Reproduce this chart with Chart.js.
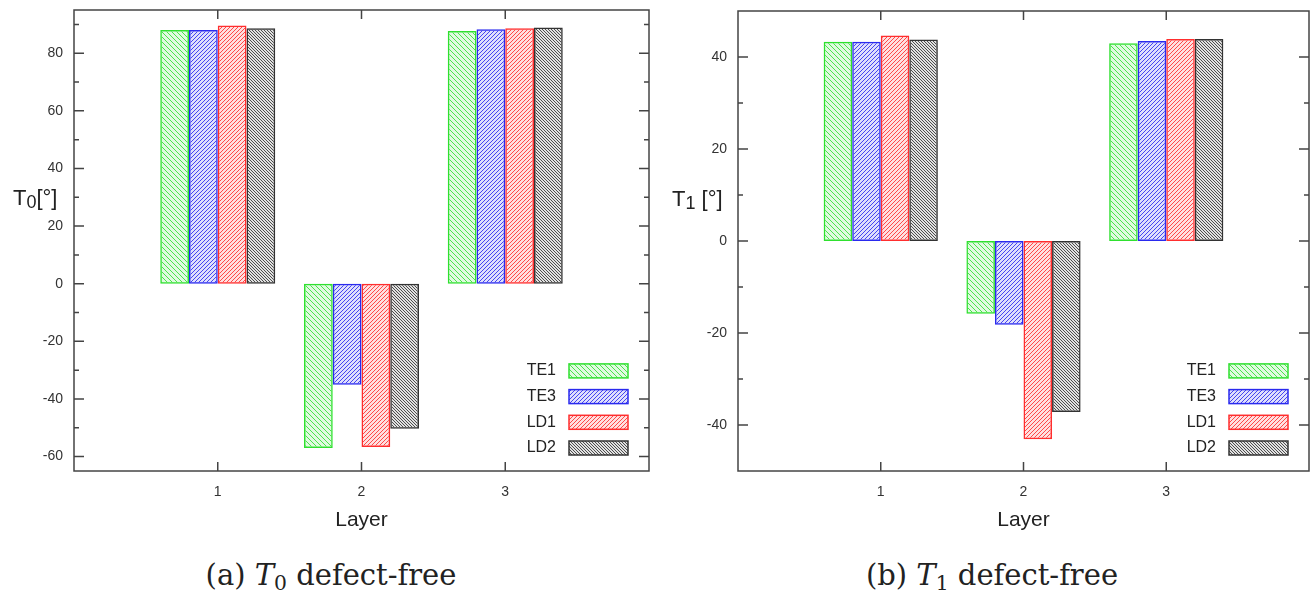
<!DOCTYPE html>
<html>
<head>
<meta charset="utf-8">
<script src="https://cdn.jsdelivr.net/npm/chart.js@4.4.1/dist/chart.umd.min.js"></script>
<style>
  body { margin: 0; background: #fff; width: 1310px; height: 593px; overflow: hidden; position: relative; }
  .box { position: absolute; top: 0; width: 655px; height: 545px; }
  .cap { position: absolute; top: 558px; line-height: 34px; font-family: "DejaVu Serif", serif; font-size: 29px;
         color: #222; white-space: nowrap; transform: translateX(-50%); }
  .cap sub { font-size: 0.7em; vertical-align: -0.25em; line-height: 0; }
</style>
</head>
<body>
<div class="box" style="left:0"><canvas id="chartT0"></canvas></div>
<div class="box" style="left:655px"><canvas id="chartT1"></canvas></div>
<div class="cap" style="left:331px">(a) <i>T</i><sub>0</sub> defect-free</div>
<div class="cap" style="left:992px">(b) <i>T</i><sub>1</sub> defect-free</div>

<script>
// layers on the x axis
const layers = [1, 2, 3];
const seriesNames = ['TE1', 'TE3', 'LD1', 'LD2'];

// T0 [deg], one array per series
const t0TE1 = [88.1, -57.0, 87.7];
const t0TE3 = [88.1, -35.1, 88.3];
const t0LD1 = [89.6, -56.7, 88.7];
const t0LD2 = [88.7, -50.3, 88.9];

// T1 [deg]
const t1TE1 = [43.3, -15.8, 43.0];
const t1TE3 = [43.3, -18.2, 43.5];
const t1LD1 = [44.7, -43.1, 43.9];
const t1LD2 = [43.8, -37.2, 43.9];

// y ticks
const t0Major = [-60, -40, -20, 0, 20, 40, 60, 80];
const t0Minor = [-50, -30, -10, 10, 30, 50, 70, 90];
const t1Major = [-40, -20, 0, 20, 40];
const t1Minor = [-30, -10, 10, 30];

const colors = ['#2fe02f', '#2a2aee', '#ff2e2e', '#333333'];
const hatchDir = [-1, 1, 1, -1];
const hatchGap = [5, 4, 4, 3];

const font = "'Liberation Sans', Arial, sans-serif";

// small tile: light tint plus a one pixel diagonal line, repeated
function hatch(ctx, color, size, dir) {
    const c = document.createElement('canvas');
    c.width = c.height = size;
    const g = c.getContext('2d');
    g.fillStyle = color;
    g.globalAlpha = 0.15;
    g.fillRect(0, 0, size, size);
    g.globalAlpha = 0.85;
    for (let yy = 0; yy < size; yy++) {
        for (let xx = 0; xx < size; xx++) {
            const k = dir > 0 ? (xx + yy) % size : (xx - yy + size) % size;
            if (k === 0) g.fillRect(xx, yy, 1, 1);
        }
    }
    return ctx.createPattern(c, 'repeat');
}

// frame, inward ticks, y title and the legend (gnuplot look)
const decor = {
    id: 'decor',
    afterDatasetsDraw(chart, args, opts) {
        const ctx = chart.ctx;
        const a = chart.chartArea;
        const x = chart.scales.x, y = chart.scales.y;
        ctx.save();
        ctx.strokeStyle = '#444';
        ctx.lineWidth = 1.5;
        ctx.strokeRect(a.left, a.top, a.right - a.left, a.bottom - a.top);
        ctx.beginPath();
        layers.forEach(v => {
            const px = x.getPixelForValue(v);
            ctx.moveTo(px, a.bottom); ctx.lineTo(px, a.bottom - 9);
            ctx.moveTo(px, a.top); ctx.lineTo(px, a.top + 9);
        });
        opts.major.forEach(v => {
            const py = y.getPixelForValue(v);
            ctx.moveTo(a.left, py); ctx.lineTo(a.left + 10, py);
            ctx.moveTo(a.right, py); ctx.lineTo(a.right - 10, py);
        });
        opts.minor.forEach(v => {
            const py = y.getPixelForValue(v);
            ctx.moveTo(a.left, py); ctx.lineTo(a.left + 5, py);
            ctx.moveTo(a.right, py); ctx.lineTo(a.right - 5, py);
        });
        ctx.stroke();

        // y title with subscript
        ctx.fillStyle = '#222';
        ctx.textBaseline = 'alphabetic';
        ctx.textAlign = 'left';
        let tx = a.left + opts.titleDx;
        const ty = a.top + 195;
        ctx.font = '22px ' + font;
        ctx.fillText('T', tx, ty);
        tx += ctx.measureText('T').width;
        ctx.font = '18px ' + font;
        ctx.fillText(opts.sub, tx, ty + 3);
        tx += ctx.measureText(opts.sub).width;
        ctx.font = '22px ' + font;
        ctx.fillText(opts.rest, tx, ty);

        // legend, bottom right inside the plot
        const sw = 59, sh = 14;
        const sx = a.right - 21 - sw;
        chart.data.datasets.forEach((ds, i) => {
            const cy = a.bottom - 23 - (chart.data.datasets.length - 1 - i) * 25.7;
            ctx.fillStyle = ds.backgroundColor;
            ctx.fillRect(sx, cy - sh / 2, sw, sh);
            ctx.strokeStyle = ds.borderColor;
            ctx.lineWidth = 1.5;
            ctx.strokeRect(sx, cy - sh / 2, sw, sh);
            ctx.fillStyle = '#222';
            ctx.font = '16px ' + font;
            ctx.textAlign = 'right';
            ctx.textBaseline = 'middle';
            ctx.fillText(ds.label, sx - 13, cy);
        });
        ctx.restore();
    }
};

function makeChart(id, series, yMin, yMax, major, minor, pad, yWidth, titleDx, sub, rest) {
    const ctx = document.getElementById(id).getContext('2d');
    return new Chart(ctx, {
        type: 'bar',
        data: {
            labels: layers,
            datasets: series.map((vals, i) => ({
                label: seriesNames[i],
                data: vals,
                backgroundColor: hatch(ctx, colors[i], hatchGap[i], hatchDir[i]),
                borderColor: colors[i],
                borderWidth: 1.5,
                borderSkipped: false
            }))
        },
        options: {
            responsive: true,
            maintainAspectRatio: false,
            animation: false,
            layout: { padding: pad },
            categoryPercentage: 0.8,
            barPercentage: 1.0,
            plugins: {
                legend: { display: false },
                tooltip: { enabled: false },
                decor: { major: major, minor: minor, titleDx: titleDx, sub: sub, rest: rest }
            },
            scales: {
                x: {
                    type: 'linear',
                    min: 0, max: 4,
                    offset: false,
                    grid: { display: false, drawTicks: false },
                    border: { display: false },
                    afterBuildTicks: s => { s.ticks = layers.map(v => ({ value: v })); },
                    afterFit: s => { s.height = 74; s.paddingLeft = 0; s.paddingRight = 0; },
                    ticks: { padding: 13, color: '#333', font: { family: font, size: 14 } },
                    title: { display: true, text: 'Layer', color: '#222',
                             font: { family: font, size: 21 }, padding: { top: 0, bottom: 12 } }
                },
                y: {
                    min: yMin, max: yMax,
                    grid: { display: false, drawTicks: false },
                    border: { display: false },
                    afterBuildTicks: s => { s.ticks = major.map(v => ({ value: v })); },
                    afterFit: s => { s.width = yWidth; s.paddingTop = 0; s.paddingBottom = 0; },
                    ticks: { padding: 11, color: '#333', font: { family: font, size: 14 } }
                }
            }
        },
        plugins: [decor]
    });
}

makeChart('chartT0', [t0TE1, t0TE3, t0LD1, t0LD2], -65, 95, t0Major, t0Minor,
          { left: 0, right: 6, top: 10, bottom: 0 }, 74, -61, '0', '[°]');
makeChart('chartT1', [t1TE1, t1TE3, t1LD1, t1LD2], -50, 50, t1Major, t1Minor,
          { left: 0, right: 1, top: 11, bottom: 0 }, 83, -66, '1', ' [°]');
</script>
</body>
</html>
